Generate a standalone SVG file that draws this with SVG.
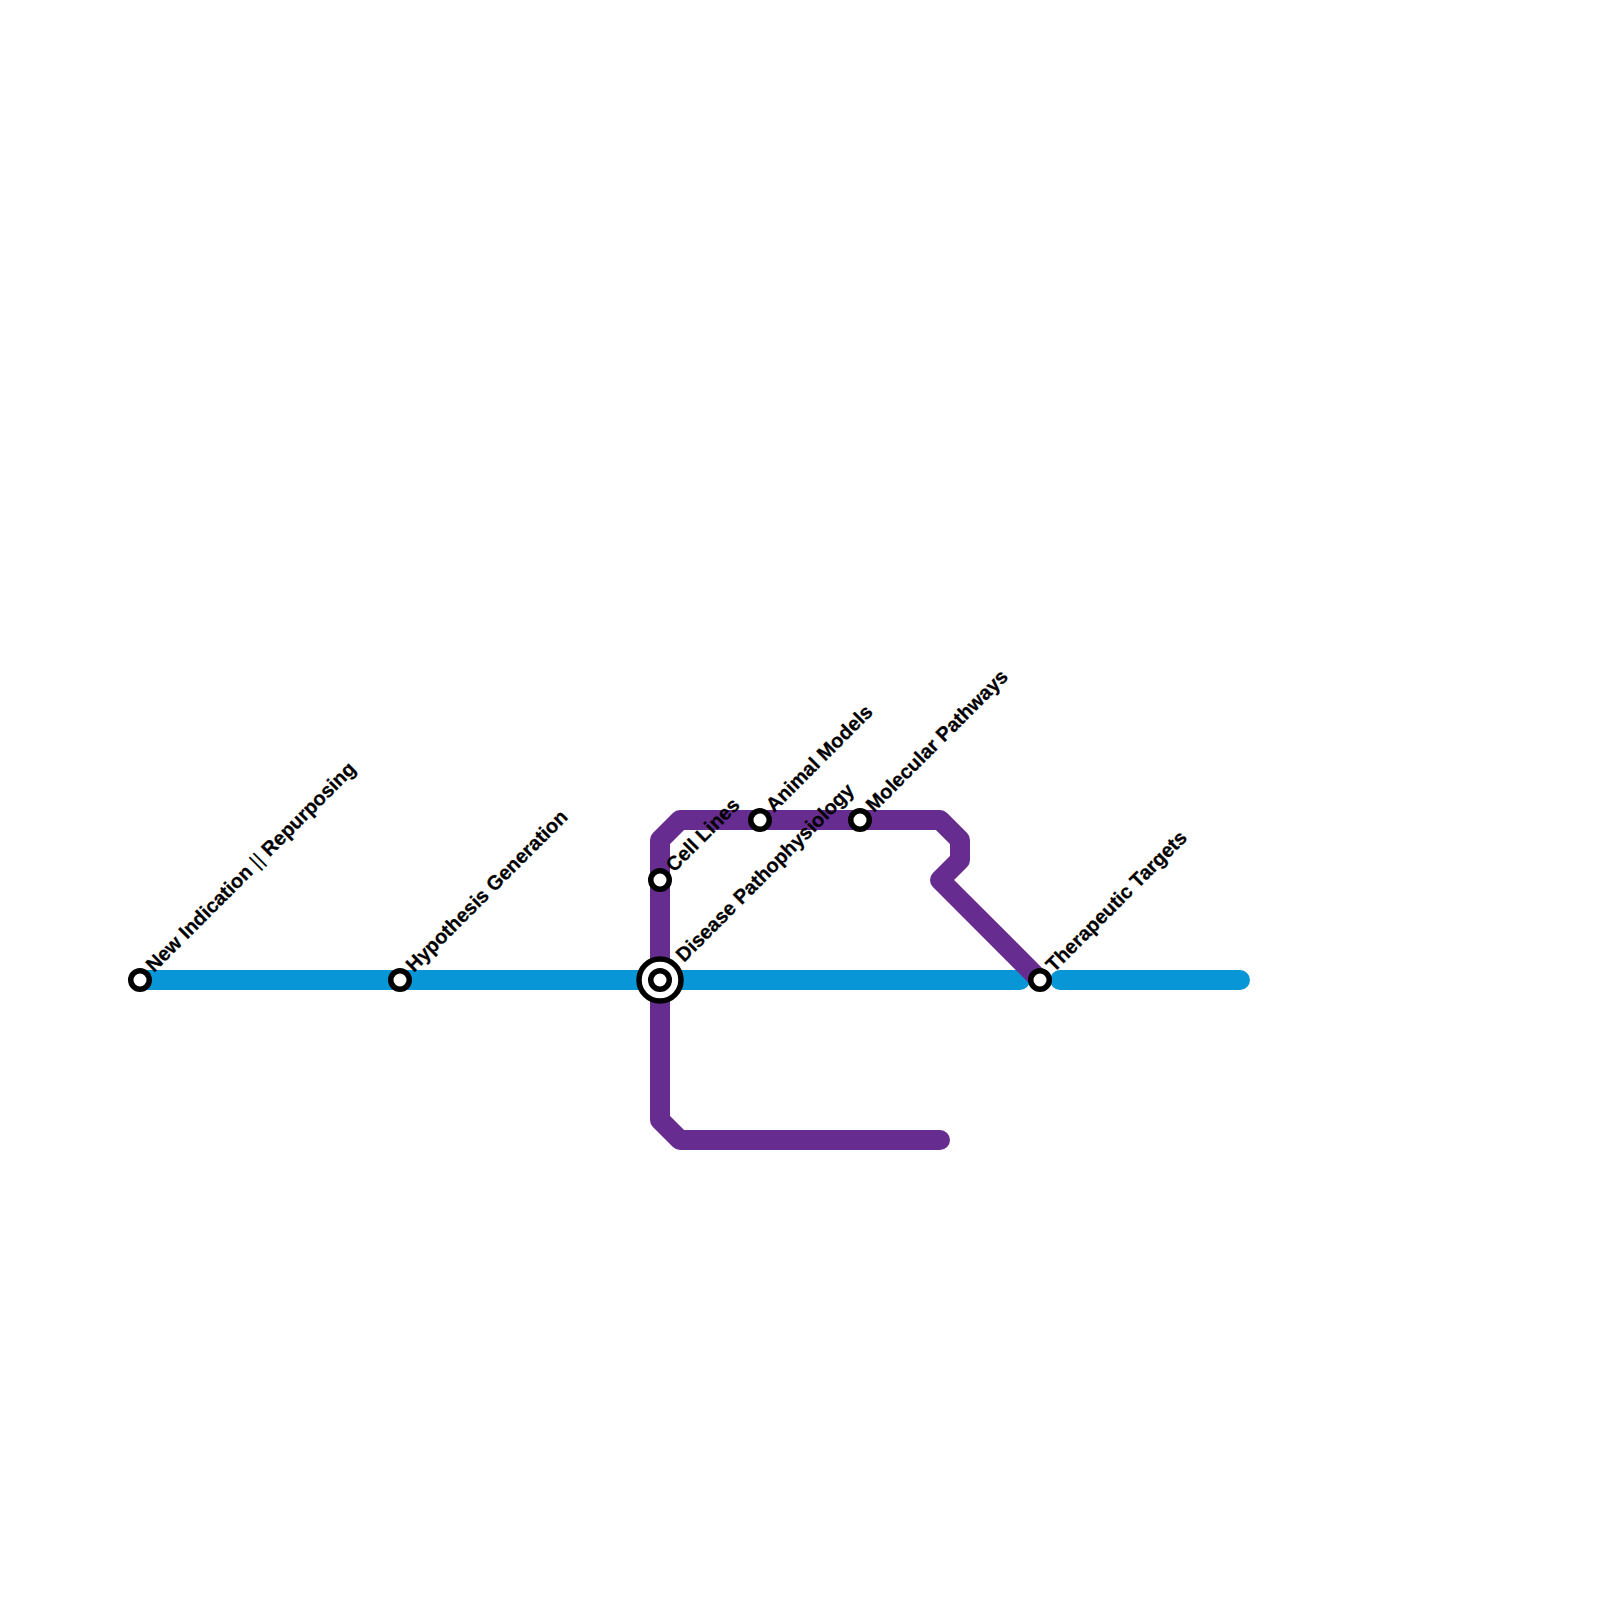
<svg xmlns="http://www.w3.org/2000/svg" width="1600" height="1600" viewBox="0 0 1600 1600">
<style>
.l{fill:none;stroke-width:20;stroke-linecap:round;stroke-linejoin:round}
.s{fill:#fff;stroke:#000;stroke-width:5.500}
text{font-family:"Liberation Sans",Arial,sans-serif;font-weight:700;font-size:20px;fill:#000;stroke:#000;stroke-width:.25;text-rendering:geometricPrecision}
.b{font-weight:400;letter-spacing:.4px;stroke:none}
</style>
<rect width="1600" height="1600" fill="#fff"/>
<g id="connectors">
<path class="l" stroke="#0896d7" d="M140 980H1020"/>
<path class="l" stroke="#0896d7" d="M1060 980H1240"/>
<path class="l" stroke="#662c90" d="M940 1140H680L660 1120V840L680 820H940L960 840V860L940 880L1040 980"/>
</g>
<g id="n1"><circle class="s" cx="140" cy="980" r="9.250"/><text transform="translate(154 973) rotate(-45)">New Indication <tspan class="b">||</tspan> Repurposing</text></g>
<g id="n2"><circle class="s" cx="400" cy="980" r="9.250"/><text transform="translate(414 973) rotate(-45)">Hypothesis Generation</text></g>
<g id="n3"><circle class="s" cx="660" cy="980" r="21"/><circle class="s" cx="660" cy="980" r="9.250"/><text transform="translate(684 963) rotate(-45)">Disease Pathophysiology</text></g>
<g id="n4"><circle class="s" cx="660" cy="880" r="9.250"/><text transform="translate(674 873) rotate(-45)">Cell Lines</text></g>
<g id="n5"><circle class="s" cx="760" cy="820" r="9.250"/><text transform="translate(774 813) rotate(-45)">Animal Models</text></g>
<g id="n6"><circle class="s" cx="860" cy="820" r="9.250"/><text transform="translate(874 813) rotate(-45)">Molecular Pathways</text></g>
<g id="n7"><circle class="s" cx="1040" cy="980" r="9.250"/><text transform="translate(1054 973) rotate(-45)">Therapeutic Targets</text></g>
</svg>
